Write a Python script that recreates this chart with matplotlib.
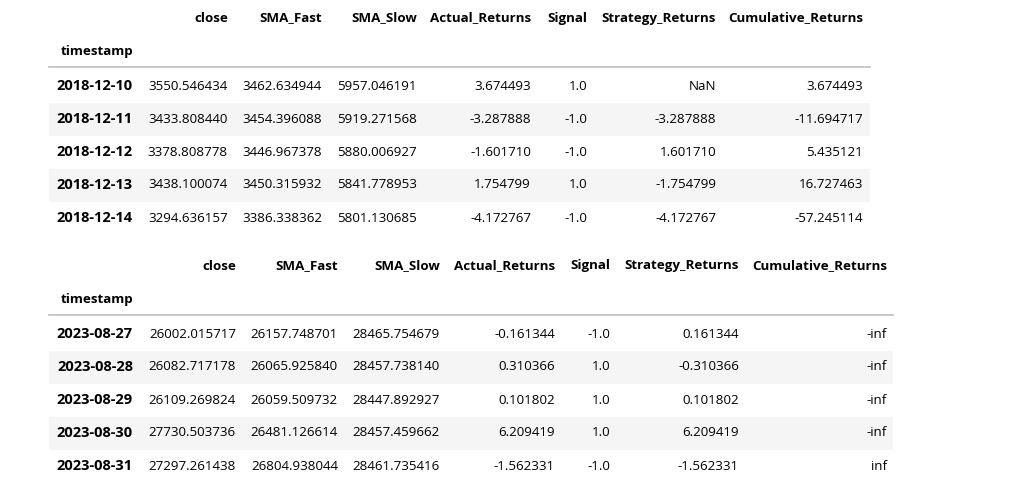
import numpy as np
import matplotlib.pyplot as plt
from matplotlib.patches import Rectangle

plt.rcParams['font.family'] = ['Open Sans', 'DejaVu Sans']

columns = ['close', 'SMA_Fast', 'SMA_Slow', 'Actual_Returns', 'Signal',
           'Strategy_Returns', 'Cumulative_Returns']
index_name = 'timestamp'

# head of the frame
head_dates = ['2018-12-10', '2018-12-11', '2018-12-12', '2018-12-13', '2018-12-14']
head_close = [3550.546434, 3433.808440, 3378.808778, 3438.100074, 3294.636157]
head_fast = [3462.634944, 3454.396088, 3446.967378, 3450.315932, 3386.338362]
head_slow = [5957.046191, 5919.271568, 5880.006927, 5841.778953, 5801.130685]
head_actual = [3.674493, -3.287888, -1.601710, 1.754799, -4.172767]
head_signal = [1.0, -1.0, -1.0, 1.0, -1.0]
head_strategy = [np.nan, -3.287888, 1.601710, -1.754799, -4.172767]
head_cumulative = [3.674493, -11.694717, 5.435121, 16.727463, -57.245114]

# tail of the frame
tail_dates = ['2023-08-27', '2023-08-28', '2023-08-29', '2023-08-30', '2023-08-31']
tail_close = [26002.015717, 26082.717178, 26109.269824, 27730.503736, 27297.261438]
tail_fast = [26157.748701, 26065.925840, 26059.509732, 26481.126614, 26804.938044]
tail_slow = [28465.754679, 28457.738140, 28447.892927, 28457.459662, 28461.735416]
tail_actual = [-0.161344, 0.310366, 0.101802, 6.209419, -1.562331]
tail_signal = [-1.0, 1.0, 1.0, 1.0, -1.0]
tail_strategy = [0.161344, -0.310366, 0.101802, 6.209419, -1.562331]
tail_cumulative = [-np.inf, -np.inf, -np.inf, -np.inf, np.inf]


def fmt(v, dec):
    if np.isnan(v):
        return 'NaN'
    if np.isinf(v):
        return 'inf' if v > 0 else '-inf'
    return f'{v:.{dec}f}'


def draw_table(ax, top, dates, cols, col_right, line_right):
    fs = 9.6
    color = 'black'
    row_h = 33
    # header rows
    for name, xr in zip(columns, col_right):
        ax.text(xr, top, name, ha='right', va='center', fontsize=fs,
                fontweight='bold', color=color)
    ax.text(133, top + 33, index_name, ha='right', va='center', fontsize=fs,
            fontweight='bold', color=color)
    sep_y = top + 49
    ax.plot([49, line_right], [sep_y, sep_y], color='#bdbdbd', lw=1.2)
    for i, d in enumerate(dates):
        yc = sep_y + 19 + i * row_h
        if i % 2 == 1:
            ax.add_patch(Rectangle((49, yc - row_h / 2), line_right - 49, row_h,
                                   facecolor='#f5f5f5', edgecolor='none', zorder=0))
        ax.text(133, yc, d, ha='right', va='center', fontsize=10.5,
                fontweight='bold', color=color)
        for j, (vals, xr) in enumerate(zip(cols, col_right)):
            dec = 1 if columns[j] == 'Signal' else 6
            ax.text(xr, yc, fmt(vals[i], dec), ha='right', va='center',
                    fontsize=fs, color=color)


fig = plt.figure(figsize=(10.18, 5.03), dpi=100)
ax = fig.add_axes([0, 0, 1, 1])
ax.set_xlim(0, 1018)
ax.set_ylim(503, 0)
ax.axis('off')

draw_table(ax, 18, head_dates,
           [head_close, head_fast, head_slow, head_actual, head_signal,
            head_strategy, head_cumulative],
           [228, 322, 417, 531, 587, 716, 863], 870)
draw_table(ax, 266, tail_dates,
           [tail_close, tail_fast, tail_slow, tail_actual, tail_signal,
            tail_strategy, tail_cumulative],
           [236, 338, 440, 555, 610, 739, 887], 893)

fig.savefig('out.png', dpi=100)
